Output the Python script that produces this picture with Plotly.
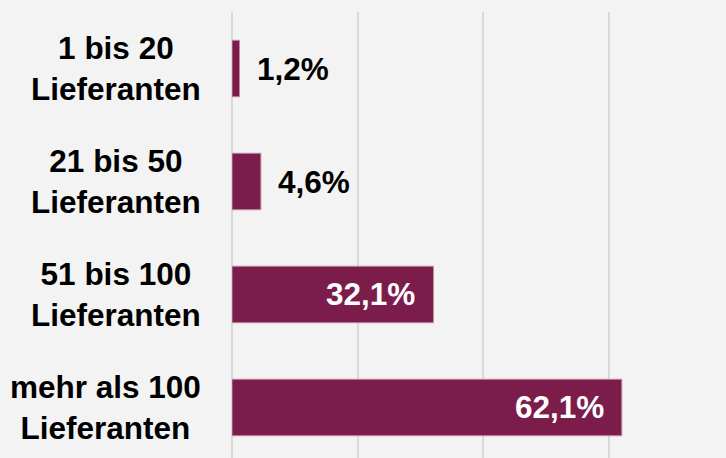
import plotly.graph_objects as go

categories = ["1 bis 20<br>Lieferanten", "21 bis 50<br>Lieferanten",
              "51 bis 100<br>Lieferanten", "mehr als 100<br>Lieferanten"]
values = [1.2, 4.6, 32.1, 62.1]
value_labels = ["1,2%", "4,6%", "32,1%", "62,1%"]
inside = [False, False, True, True]
gridticks = [0, 20, 40, 60]

BAR = "#7c1c4a"
BG = "#f3f3f3"
GRID = "#d9d9d9"
FONT = "Liberation Sans, Arial, sans-serif"

idx = list(range(len(categories)))

fig = go.Figure(go.Bar(
    x=values, y=idx, orientation="h",
    marker=dict(color=BAR, line=dict(color="#c08aa4", width=1)),
    width=0.5, hoverinfo="skip",
))

annotations = []
for i, (cat, v, lab, ins) in enumerate(zip(categories, values, value_labels, inside)):
    annotations.append(dict(
        x=-0.0587, xref="paper", y=i, yref="y", text=cat, showarrow=False,
        xanchor="right", yanchor="middle", align="center",
        font=dict(family=FONT, size=31.5, color="black", weight="bold"),
    ))
    annotations.append(dict(
        x=v, xref="x", y=i, yref="y", text=lab, showarrow=False,
        xanchor="right" if ins else "left", yanchor="middle",
        xshift=-16 if ins else 15,
        font=dict(family=FONT, size=31.5, color="white" if ins else "black", weight="bold"),
    ))

fig.update_layout(
    width=726, height=458,
    margin=dict(l=232, r=0, t=12, b=0),
    paper_bgcolor=BG, plot_bgcolor=BG,
    showlegend=False,
    annotations=annotations,
    xaxis=dict(range=[0, 78.7], tickvals=gridticks, showticklabels=False,
               showgrid=True, gridcolor=GRID, gridwidth=1.5,
               zeroline=True, zerolinecolor=GRID, zerolinewidth=1.5,
               showline=False, fixedrange=True),
    yaxis=dict(range=[3.447, -0.5], showticklabels=False, showgrid=False,
               zeroline=False, showline=False, fixedrange=True),
)

fig.write_html("out.html", config={"displayModeBar": False},
               post_script="document.body.style.margin='0';document.body.style.background='#f3f3f3';")
